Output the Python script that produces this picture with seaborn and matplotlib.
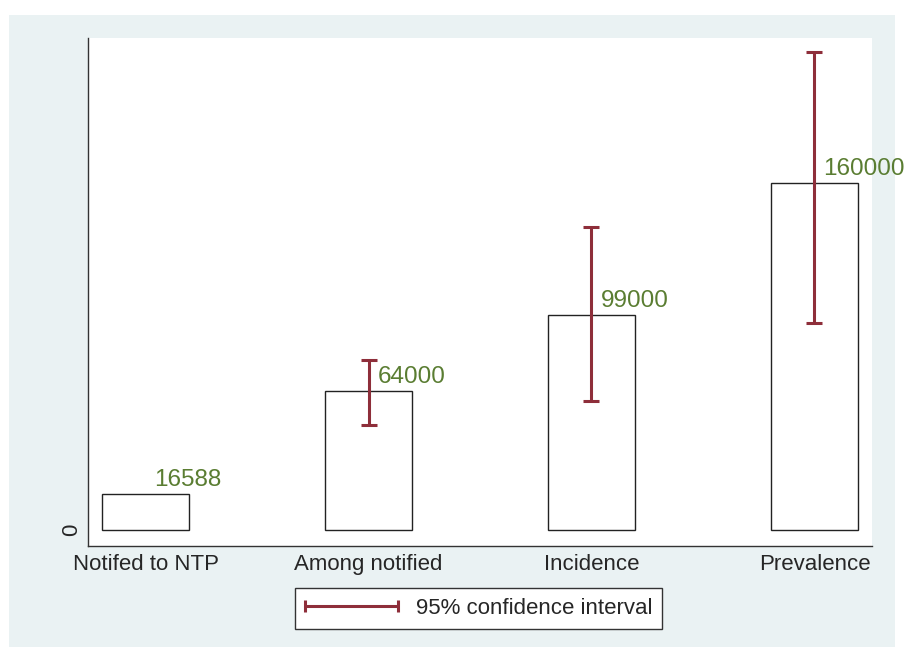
import seaborn as sns
import matplotlib.pyplot as plt
import matplotlib.patches as mpatches
from matplotlib.lines import Line2D
from matplotlib.legend_handler import HandlerBase
import numpy as np
import pandas as pd

# Data
categories = ["Notifed to NTP", "Among notified", "Incidence", "Prevalence"]
estimates = [16588, 64000, 99000, 160000]
ci_low = [np.nan, 48400, 59500, 95500]
ci_high = [np.nan, 78400, 139700, 220400]
bar_labels = ["16588", "64000", "99000", "160000"]

df = pd.DataFrame({"category": categories, "estimate": estimates,
                   "lo": ci_low, "hi": ci_high, "label": bar_labels})

sns.set_style("white")
plt.rcParams['font.family'] = ['Liberation Sans', 'DejaVu Sans']

bg_color = "#EAF2F3"
ci_color = "#8E2E3A"
label_color = "#5A7D32"


class CapLineHandler(HandlerBase):
    """Horizontal line with vertical caps, like a Stata rcap key."""

    def create_artists(self, legend, orig_handle, xdescent, ydescent,
                       width, height, fontsize, trans):
        y = height / 2 - ydescent
        cap = height * 0.38
        x0, x1 = -xdescent, width - xdescent
        kw = dict(color=ci_color, linewidth=2.2, transform=trans,
                  solid_capstyle="butt")
        return [Line2D([x0, x1], [y, y], **kw),
                Line2D([x0, x0], [y - cap, y + cap], **kw),
                Line2D([x1, x1], [y - cap, y + cap], **kw)]


fig = plt.figure(figsize=(9.09, 6.5), dpi=100)
fig.patch.set_facecolor("white")
# light background panel (Stata style)
fig.patches.append(mpatches.Rectangle((9 / 909, 1 - 647 / 650), 886 / 909, 632 / 650,
                                      transform=fig.transFigure, facecolor=bg_color,
                                      edgecolor="none", zorder=-10))

ax = fig.add_axes([88 / 909, 1 - 546 / 650, 784 / 909, 508 / 650])
ax.set_facecolor("white")

sns.barplot(data=df, x="category", y="estimate", color="white", edgecolor="#222222",
            linewidth=1.0, width=0.39, saturation=1, ax=ax)

x = np.arange(len(df))
err = np.vstack([df["estimate"] - df["lo"], df["hi"] - df["estimate"]])
ax.errorbar(x, df["estimate"], yerr=err, fmt="none", ecolor=ci_color,
            elinewidth=2.2, capsize=6, capthick=2.2, zorder=3)

for i, row in df.iterrows():
    ax.text(i + 0.04, row["estimate"] + 1500, row["label"], color=label_color,
            fontsize=17.5, ha="left", va="bottom")

ax.set_xlim(-0.258, 3.258)
ax.set_ylim(-7400, 226900)
ax.set_yticks([0])
ax.set_yticklabels(["0"], rotation=90, va="center", fontsize=16)
ax.tick_params(axis="x", labelsize=16, length=0, pad=6)
ax.tick_params(axis="y", length=0, pad=4)
ax.set_xlabel("")
ax.set_ylabel("")
for side in ["top", "right"]:
    ax.spines[side].set_visible(False)
for side in ["left", "bottom"]:
    ax.spines[side].set_color("#333333")
    ax.spines[side].set_linewidth(1.0)

ci_key = Line2D([], [], color=ci_color)
leg = fig.legend([ci_key], ["95% confidence interval"], loc="center",
                 bbox_to_anchor=(478.5 / 909, 1 - 608 / 650), fontsize=16,
                 frameon=True, fancybox=False, edgecolor="#333333",
                 handlelength=4.2, borderpad=0.45, handletextpad=0.8,
                 handler_map={Line2D: CapLineHandler()})
leg.get_frame().set_linewidth(1.0)
leg.get_frame().set_facecolor("white")
leg.get_frame().set_alpha(1.0)

fig.savefig("out.png", dpi=100)
